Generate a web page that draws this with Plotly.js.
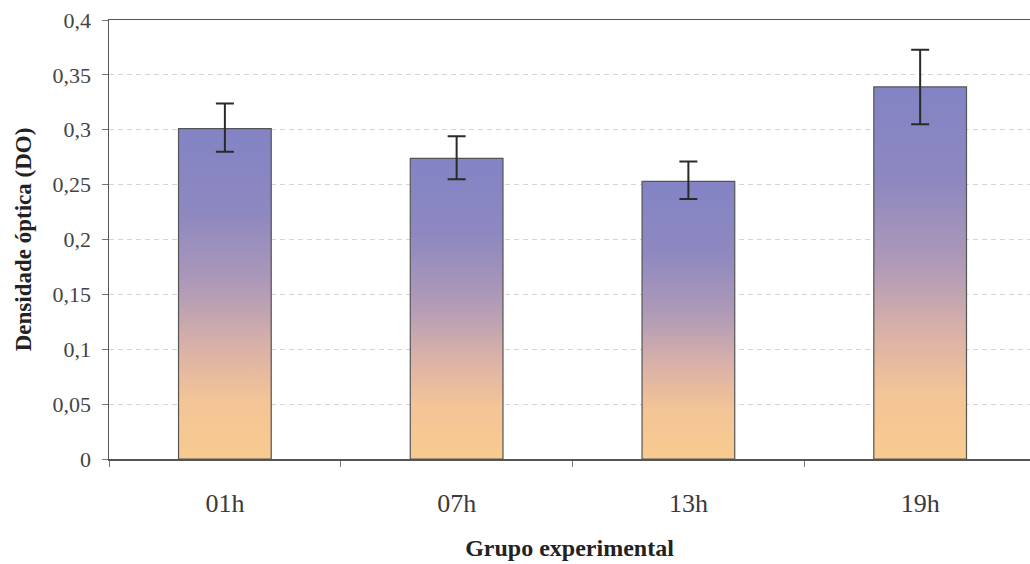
<!DOCTYPE html>
<html>
<head>
<meta charset="utf-8">
<script src="https://cdn.plot.ly/plotly-3.0.1.min.js"></script>
<style>html,body{margin:0;padding:0;background:#fff;}</style>
</head>
<body>
<div id="chart" style="width:1030px;height:564px;"></div>
<script>
const categories = ["01h", "07h", "13h", "19h"];
const means = [0.301, 0.274, 0.253, 0.339];
const errUp = [0.023, 0.020, 0.018, 0.034];
const errDown = [0.021, 0.019, 0.016, 0.034];

const trace = {
  type: 'bar',
  x: categories,
  y: means,
  width: 0.4,
  marker: {color: '#b8a0b8', line: {color: '#555555', width: 1.2}},
  error_y: {type: 'data', symmetric: false, array: errUp, arrayminus: errDown,
            color: '#2a2a2a', thickness: 2, width: 9},
  hoverinfo: 'none'
};

const layout = {
  width: 1030, height: 564,
  margin: {l: 109, r: 0, t: 20, b: 105},
  paper_bgcolor: '#ffffff', plot_bgcolor: '#ffffff',
  separators: ',.',
  showlegend: false,
  font: {family: 'Liberation Serif, serif', color: '#333333', size: 16},
  xaxis: {
    type: 'category',
    range: [-0.5, 3.474],
    showline: true, linecolor: '#555555', linewidth: 1.5, mirror: true,
    ticks: 'outside', tickson: 'boundaries', ticklen: 6, tickcolor: '#777777',
    ticklabelstandoff: 20,
    tickfont: {size: 26, color: '#3a3a3a'},
    showgrid: false, zeroline: false,
    title: {text: 'Grupo experimental', font: {size: 24, color: '#222222', family: 'Liberation Serif, serif', weight: 'bold'}, standoff: 22}
  },
  yaxis: {
    range: [0, 0.4],
    dtick: 0.05, tick0: 0,
    showline: true, linecolor: '#555555', linewidth: 1.5,
    ticks: 'outside', ticklen: 6, tickcolor: '#777777',
    ticklabelstandoff: 6,
    tickfont: {size: 22, color: '#444444'},
    showgrid: true, gridcolor: '#d4d4d4', griddash: '5px,4px', gridwidth: 1,
    zeroline: false,
    title: {text: 'Densidade óptica (DO)', font: {size: 23, color: '#222222', family: 'Liberation Serif, serif', weight: 'bold'}, standoff: 14}
  }
};

function applyGradient(gd) {
  const svg = gd.querySelector('svg.main-svg');
  if (!svg) return;
  if (!svg.querySelector('#barGrad')) {
    const ns = 'http://www.w3.org/2000/svg';
    let defs = svg.querySelector('defs');
    if (!defs) { defs = document.createElementNS(ns, 'defs'); svg.insertBefore(defs, svg.firstChild); }
    const g = document.createElementNS(ns, 'linearGradient');
    g.setAttribute('id', 'barGrad');
    g.setAttribute('x1', '0'); g.setAttribute('y1', '0');
    g.setAttribute('x2', '0'); g.setAttribute('y2', '1');
    const stops = [[0, '#8383c5'], [0.25, '#8d88c0'], [0.47, '#ae99b8'], [0.66, '#d9b1a8'], [0.82, '#f3c496'], [1, '#f8cb90']];
    stops.forEach(s => {
      const st = document.createElementNS(ns, 'stop');
      st.setAttribute('offset', s[0]);
      st.setAttribute('stop-color', s[1]);
      g.appendChild(st);
    });
    defs.appendChild(g);
  }
  gd.querySelectorAll('.bars .point path').forEach(p => {
    p.style.fill = 'url(#barGrad)';
    p.style.fillOpacity = 1;
  });
}

const gd = document.getElementById('chart');
Plotly.newPlot(gd, [trace], layout, {staticPlot: true}).then(() => {
  applyGradient(gd);
  gd.on && gd.on('plotly_afterplot', () => applyGradient(gd));
});
</script>
</body>
</html>
